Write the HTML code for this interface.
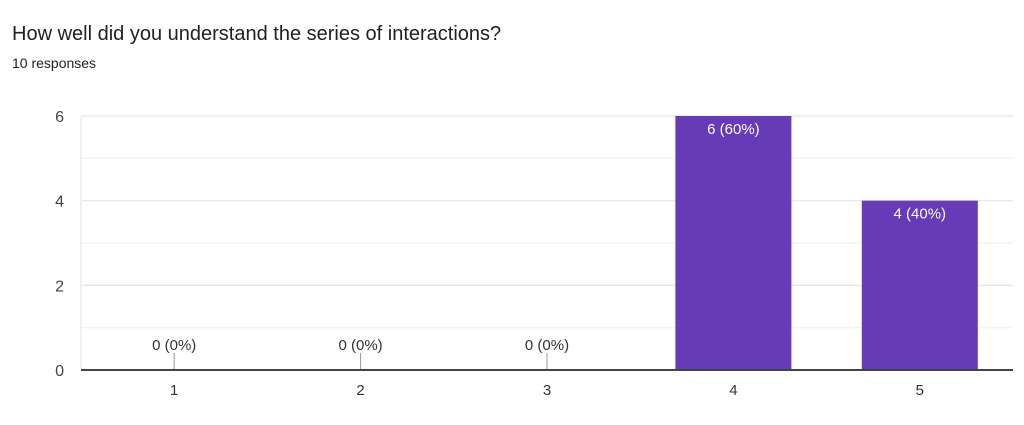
<!DOCTYPE html>
<html><head><meta charset="utf-8"><style>
body{margin:0;background:#fff;width:1024px;height:420px;overflow:hidden;font-family:"Liberation Sans",Arial,sans-serif}
</style></head><body>
<svg width="1024" height="420" xmlns="http://www.w3.org/2000/svg">
<text x="12" y="40" font-size="20" fill="#202124">How well did you understand the series of interactions?</text>
<text x="12" y="68" font-size="14" fill="#202124">10 responses</text>
<g id="grid"></g><g id="bars"></g><g id="axes"></g>
</svg>
<script>
const categories=["1","2","3","4","5"];
const values=[0,0,0,6,4];
const labels=["0 (0%)","0 (0%)","0 (0%)","6 (60%)","4 (40%)"];
const yTicks=[0,2,4,6];
const L=81,R=1013,T=116,B=370,yMax=6;
const NS="http://www.w3.org/2000/svg";
const y=v=>B-(v/yMax)*(B-T);
const band=(R-L)/categories.length;
const x=i=>L+band*(i+0.5);
function mk(t,a,p,txt){const e=document.createElementNS(NS,t);for(const k in a)e.setAttribute(k,a[k]);if(txt!==undefined)e.textContent=txt;p.appendChild(e);return e;}
const g=document.getElementById('grid'),b=document.getElementById('bars'),ax=document.getElementById('axes');
for(let v=1;v<=yMax;v++){const l=mk('line',{x1:L,x2:R,y1:y(v),y2:y(v),stroke:v%2?'#f3f3f3':'#e8e8e8','stroke-width':1.5},g);

}
const vl=mk('line',{x1:L,x2:L,y1:T,y2:B,stroke:'#ececec','stroke-width':1.5},g);


yTicks.forEach(v=>{const t=mk('text',{x:64,y:y(v)+6,'font-size':16,fill:'#444','text-anchor':'end'},ax,String(v));

});
categories.forEach((c,i)=>{
const cx=x(i),w=116,v=values[i];
if(v>0){const r=mk('rect',{x:cx-w/2,y:y(v),width:w,height:B-y(v),fill:'#673ab7'},b);


const t=mk('text',{x:cx,y:y(v)+18,'font-size':15,fill:'#fff','text-anchor':'middle'},b,labels[i]);

}
else{const s=mk('line',{x1:cx,x2:cx,y1:B-17,y2:B,stroke:'#999','stroke-width':1},b);


const t=mk('text',{x:cx,y:B-20,'font-size':15,fill:'#333','text-anchor':'middle'},b,labels[i]);

}
const xt=mk('text',{x:cx,y:B+25,'font-size':15,fill:'#333','text-anchor':'middle'},ax,c);


});
const base=mk('line',{x1:L,x2:R,y1:B,y2:B,stroke:'#444','stroke-width':2},ax);


</script>
</body></html>
